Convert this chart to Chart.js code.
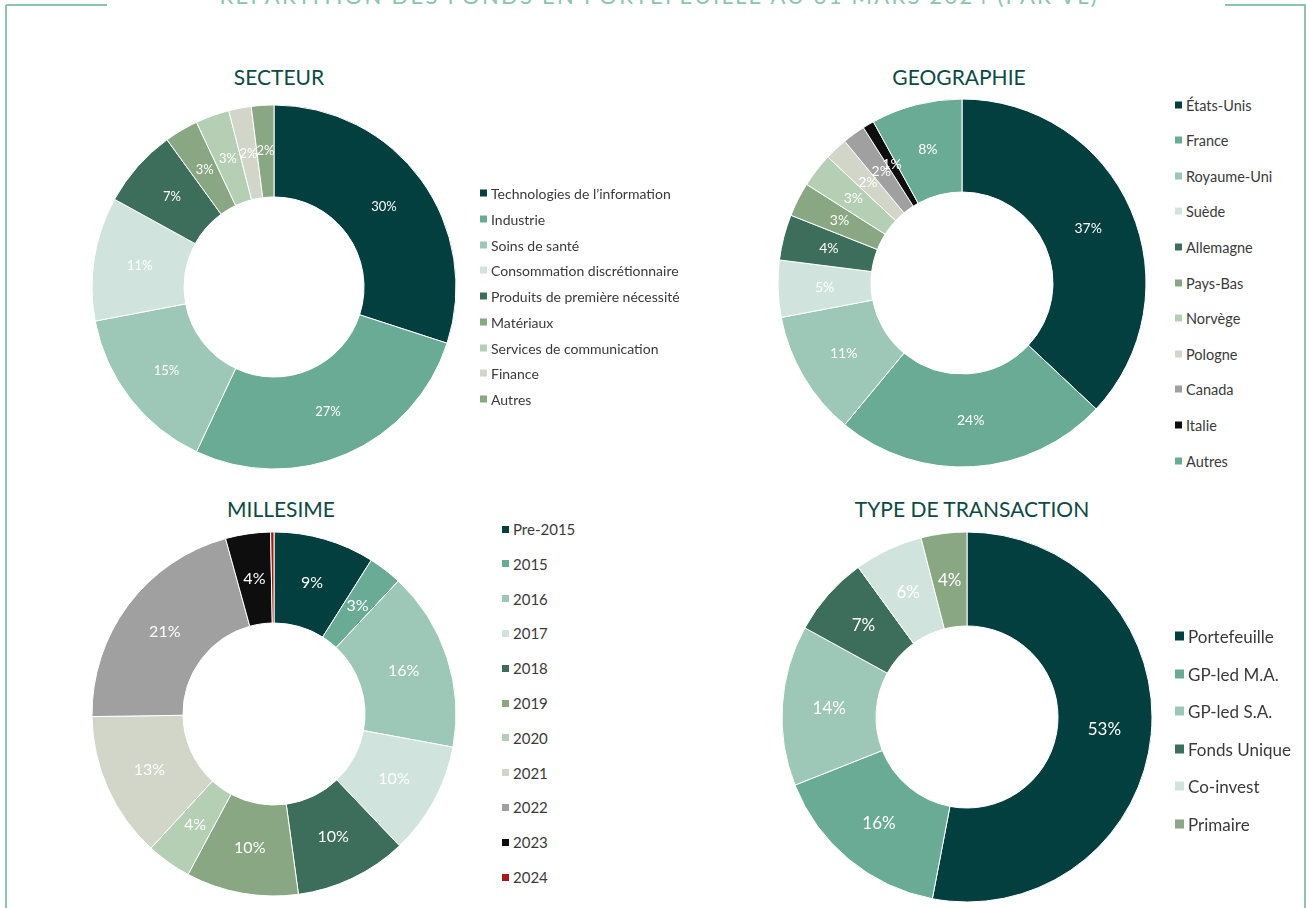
<!DOCTYPE html>
<html>
<head>
<meta charset="utf-8">
<script src="https://cdn.jsdelivr.net/npm/chart.js@4/dist/chart.umd.min.js"></script>
<style>
  body { margin: 0; background: #fff; font-family: Lato, "Open Sans", sans-serif; }
  #page { position: relative; width: 1306px; height: 908px; overflow: hidden; }
  .frame-v { position: absolute; top: 5px; width: 2px; height: 910px; background: #8ec3b0; }
  .frame-h { position: absolute; top: 4px; height: 2px; background: #8ec3b0; }
  #bigtitle { position: absolute; left: 12px; width: 1306px; top: -15px; line-height: 22px; text-align: center;
              font-size: 22px; letter-spacing: 2.25px; color: #8cc4ad; white-space: nowrap; }
  .title { position: absolute; font-size: 21px; color: #0d4a45; white-space: nowrap; transform: translate(-50%, -50%); }
  .legend { position: absolute; color: #3a3a3a; white-space: nowrap; }
  .legend div { position: absolute; left: 0; display: flex; align-items: center; transform: translateY(-50%); }
  .legend span.box { display: inline-block; margin-right: 4px; }
  canvas { position: absolute; }
</style>
</head>
<body>
<div id="page">
  <div class="frame-v" style="left:5px"></div>
  <div class="frame-v" style="left:1304px"></div>
  <div class="frame-h" style="left:6px;width:101px"></div>
  <div class="frame-h" style="left:1225px;width:81px"></div>
  <div id="bigtitle">RÉPARTITION DES FONDS EN PORTEFEUILLE AU 31 MARS 2024 (PAR VL)*</div>

  <div class="title" style="left:279px;top:76px">SECTEUR</div>
  <div class="title" style="left:959px;top:76px">GEOGRAPHIE</div>
  <div class="title" style="left:281px;top:508px">MILLESIME</div>
  <div class="title" style="left:972px;top:508px">TYPE DE TRANSACTION</div>

  <canvas id="c1" width="420" height="420"></canvas>
  <canvas id="c2" width="420" height="420"></canvas>
  <canvas id="c3" width="420" height="420"></canvas>
  <canvas id="c4" width="420" height="420"></canvas>
</div>
<script>
// data
var secteurLabels = ['Technologies de l\u2019information', 'Industrie', 'Soins de santé', 'Consommation discrétionnaire',
  'Produits de première nécessité', 'Matériaux', 'Services de communication', 'Finance', 'Autres'];
var secteurValues = [30, 27, 15, 11, 7, 3, 3, 2, 2];

var geoLabels = ['États-Unis', 'France', 'Royaume-Uni', 'Suède', 'Allemagne', 'Pays-Bas', 'Norvège', 'Pologne', 'Canada', 'Italie', 'Autres'];
var geoValues = [37, 24, 11, 5, 4, 3, 3, 2, 2, 1, 8];

var millesimeLabels = ['Pre-2015', '2015', '2016', '2017', '2018', '2019', '2020', '2021', '2022', '2023', '2024'];
var millesimeValues = [9, 3, 16, 10, 10, 10, 4, 13, 21, 4, 0.3];

var transactionLabels = ['Portefeuille', 'GP-led M.A.', 'GP-led S.A.', 'Fonds Unique', 'Co-invest', 'Primaire'];
var transactionValues = [53, 16, 14, 7, 6, 4];

// colours
var dark = '#033f3e', mid = '#6aab96', soft = '#9dc8b7', pale = '#d0e4dd', forest = '#3d6e5c',
    sage = '#89a782', mint = '#b4cfb3', stone = '#d2d6c8', grey = '#a0a0a0', black = '#0e0e0e', red = '#a31b13';
var secteurColors = [dark, mid, soft, pale, forest, sage, mint, stone, sage];
var geoColors = [dark, mid, soft, pale, forest, sage, mint, stone, grey, black, mid];
var millesimeColors = [dark, mid, soft, pale, forest, sage, mint, stone, grey, black, red];
var transactionColors = [dark, mid, soft, forest, pale, sage];

// white % labels in the middle of each slice
var pctLabels = {
  id: 'pctLabels',
  afterDatasetsDraw(chart, args, opts) {
    var ctx = chart.ctx;
    var data = chart.data.datasets[0].data;
    ctx.save();
    ctx.font = opts.size + 'px Lato';
    ctx.fillStyle = '#ffffff';
    ctx.textAlign = 'center';
    ctx.textBaseline = 'middle';
    chart.getDatasetMeta(0).data.forEach(function (arc, i) {
      if (data[i] < 1) return;
      var p = arc.tooltipPosition(true);
      ctx.fillText(Math.round(data[i]) + '%', p.x, p.y);
    });
    ctx.restore();
  }
};

function donut(id, cx, cy, labels, values, colors, outer, inner, fontSize) {
  var el = document.getElementById(id);
  el.style.left = (cx - 210) + 'px';
  el.style.top = (cy - 210) + 'px';
  return new Chart(el, {
    type: 'doughnut',
    data: {
      labels: labels,
      datasets: [{
        data: values,
        backgroundColor: colors,
        borderColor: '#ffffff',
        borderWidth: 1,
        hoverOffset: 0
      }]
    },
    options: {
      responsive: false,
      animation: false,
      radius: outer,
      cutout: (inner / outer * 100) + '%',
      events: [],
      plugins: {
        legend: { display: false },
        tooltip: { enabled: false },
        pctLabels: { size: fontSize }
      }
    },
    plugins: [pctLabels]
  });
}

function legend(labels, colors, x, y, step, fontSize, box) {
  var wrap = document.createElement('div');
  wrap.className = 'legend';
  wrap.style.left = x + 'px';
  wrap.style.top = y + 'px';
  wrap.style.fontSize = fontSize + 'px';
  for (let i = 0; i < labels.length; i++) {
    var row = document.createElement('div');
    row.style.top = (i * step) + 'px';
    row.innerHTML = '<span class="box" style="width:' + box + 'px;height:' + box + 'px;background:' + colors[i] + '"></span>' + labels[i];
    wrap.appendChild(row);
  }
  document.getElementById('page').appendChild(wrap);
}

donut('c1', 274, 287, secteurLabels, secteurValues, secteurColors, 182, 90, 13);
donut('c2', 962, 283, geoLabels, geoValues, geoColors, 184, 91, 14);
donut('c3', 274, 714, millesimeLabels, millesimeValues, millesimeColors, 182, 91, 16);
donut('c4', 967, 717, transactionLabels, transactionValues, transactionColors, 185, 91, 17);

legend(secteurLabels, secteurColors, 480, 193, 25.75, 14, 7);
legend(geoLabels, geoColors, 1175, 104.5, 35.6, 14.5, 7);
legend(millesimeLabels, millesimeColors, 502, 529, 34.8, 15, 7);
legend(transactionLabels, transactionColors, 1175, 636, 37.5, 17, 9);
</script>
</body>
</html>
